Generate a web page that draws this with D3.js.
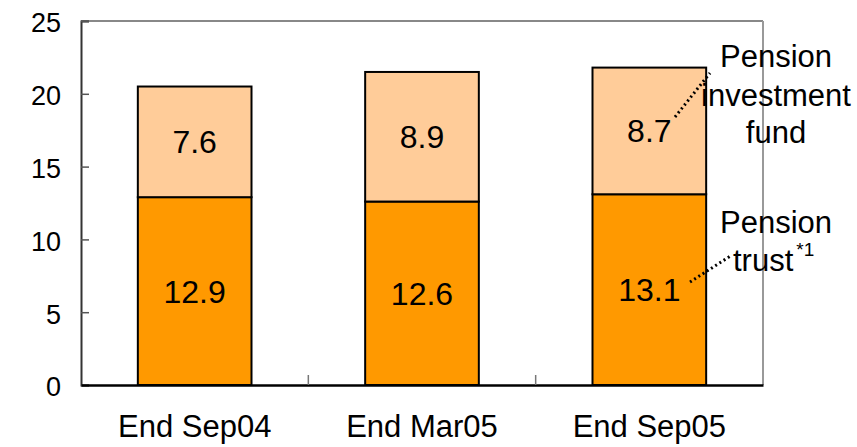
<!DOCTYPE html>
<html>
<head>
<meta charset="utf-8">
<script src="https://cdn.jsdelivr.net/npm/d3@7"></script>
<style>
  html, body { margin: 0; padding: 0; background: #fff; }
  svg { display: block; }
  text { font-family: "Liberation Sans", Arial, sans-serif; fill: #000; }
</style>
</head>
<body>
<svg id="chart" width="857" height="447"></svg>
<script>
const categories = ["End Sep04", "End Mar05", "End Sep05"];
const pensionTrust = [12.9, 12.6, 13.1];
const pensionFund = [7.6, 8.9, 8.7];
const yTicks = [0, 5, 10, 15, 20, 25];

const svg = d3.select("#chart");
const m = { left: 81, right: 763, top: 21, bottom: 385 };

const x = d3.scaleBand().domain(categories).range([m.left, m.right]).paddingInner(0).paddingOuter(0);
const y = d3.scaleLinear().domain([0, 25]).range([m.bottom, m.top]);
const barW = x.bandwidth() * 0.5;

// plot frame (top/right gray)
svg.append("line").attr("x1", m.left).attr("x2", m.right).attr("y1", m.top).attr("y2", m.top)
  .attr("stroke", "#888").attr("stroke-width", 2);
svg.append("line").attr("x1", m.right).attr("x2", m.right).attr("y1", m.top).attr("y2", m.bottom)
  .attr("stroke", "#999").attr("stroke-width", 2);

// bars
const g = svg.append("g");
categories.forEach((c, i) => {
  const x0 = x(c) + (x.bandwidth() - barW) / 2;
  const t = pensionTrust[i], f = pensionFund[i];
  g.append("rect").attr("x", x0).attr("width", barW)
    .attr("y", y(t)).attr("height", y(0) - y(t))
    .attr("fill", "#FF9900").attr("stroke", "#000").attr("stroke-width", 2);
  g.append("rect").attr("x", x0).attr("width", barW)
    .attr("y", y(t + f)).attr("height", y(t) - y(t + f))
    .attr("fill", "#FFCC99").attr("stroke", "#000").attr("stroke-width", 2);
  g.append("text").attr("x", x(c) + x.bandwidth() / 2).attr("y", (y(0) + y(t)) / 2)
    .attr("dy", "0.36em").attr("text-anchor", "middle").attr("font-size", 32).text(t.toFixed(1));
  g.append("text").attr("x", x(c) + x.bandwidth() / 2).attr("y", (y(t) + y(t + f)) / 2)
    .attr("dy", "0.36em").attr("text-anchor", "middle").attr("font-size", 32).text(f.toFixed(1));
});

// y axis
const yAxis = d3.axisLeft(y).tickValues(yTicks).tickSize(-8).tickPadding(20).tickFormat(d3.format("d"));
const ya = svg.append("g").attr("transform", `translate(${m.left},0)`).call(yAxis);
ya.select(".domain").attr("stroke", "#333").attr("stroke-width", 2);
ya.selectAll(".tick line").attr("stroke", "#555").attr("stroke-width", 1.5);
ya.selectAll(".tick text").attr("font-size", 27).attr("font-family", "Liberation Sans, Arial, sans-serif").attr("fill", "#000").attr("dy", "0.4em");

// x axis
const xAxis = d3.axisBottom(x).tickSize(0).tickPadding(29);
const xa = svg.append("g").attr("transform", `translate(0,${m.bottom})`).call(xAxis);
xa.select(".domain").attr("stroke", "#000").attr("stroke-width", 2.5);
xa.selectAll(".tick text").attr("font-size", 31).attr("font-family", "Liberation Sans, Arial, sans-serif").attr("fill", "#000").attr("dy", "0.75em");
// category divider ticks
categories.slice(1).forEach(c => {
  svg.append("line").attr("x1", x(c)).attr("x2", x(c)).attr("y1", m.bottom).attr("y2", m.bottom - 10)
    .attr("stroke", "#777").attr("stroke-width", 1.5);
});

// annotations
const ann = svg.append("g").attr("font-size", 31).attr("text-anchor", "middle");
ann.append("text").attr("x", 776).attr("y", 67).text("Pension");
ann.append("text").attr("x", 776).attr("y", 106).text("investment");
ann.append("text").attr("x", 776).attr("y", 143).text("fund");
ann.append("text").attr("x", 776).attr("y", 233).text("Pension");
const tr = ann.append("text").attr("x", 733).attr("y", 271).attr("text-anchor", "start");
tr.append("tspan").text("trust");
tr.append("tspan").attr("font-size", 19).attr("dx", 3).attr("dy", -15).text("*1");

svg.append("line").attr("x1", 675).attr("y1", 117).attr("x2", 710).attr("y2", 73)
  .attr("stroke", "#000").attr("stroke-width", 3).attr("stroke-dasharray", "2,3");
svg.append("line").attr("x1", 690).attr("y1", 282).attr("x2", 732).attr("y2", 255)
  .attr("stroke", "#000").attr("stroke-width", 3).attr("stroke-dasharray", "2,3");
</script>
</body>
</html>
